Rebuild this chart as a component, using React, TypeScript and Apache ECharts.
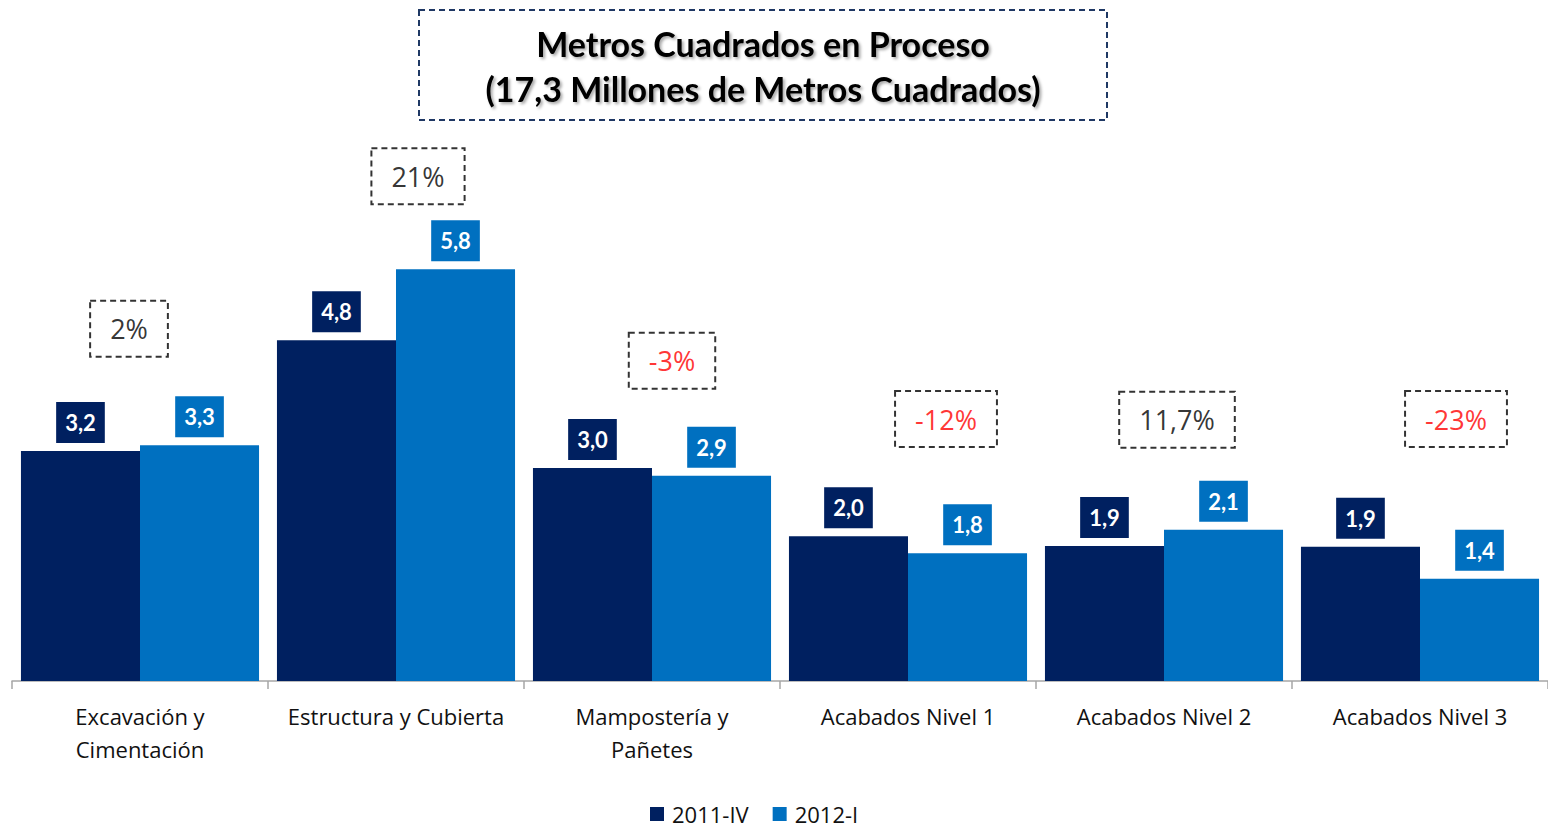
import React, { useEffect, useRef } from "react";
import * as echarts from "echarts";

const categories = [
  "Excavación y\nCimentación",
  "Estructura y Cubierta",
  "Mampostería y\nPañetes",
  "Acabados Nivel 1",
  "Acabados Nivel 2",
  "Acabados Nivel 3",
];
const seriesNames = ["2011-IV", "2012-I"];
const values2011IV = [3.24, 4.8, 3.0, 2.04, 1.9, 1.89];
const values2012I = [3.32, 5.8, 2.89, 1.8, 2.13, 1.44];
const changeLabels = ["2%", "21%", "-3%", "-12%", "11,7%", "-23%"];
const titleLines = ["Metros Cuadrados en Proceso", "(17,3 Millones de Metros Cuadrados)"];

// layout of the change annotations (axis units / px offsets)
const changeLevel = [4.96, 7.11, 4.51, 3.69, 3.68, 3.69];
const changeOffsetX = [-11, 22, 20, 38, 13, 36];

const NAVY = "#002060";
const BLUE = "#0070C0";
const FONT = "Lato, 'Open Sans', sans-serif";
const FONT2 = "'Open Sans', Lato, sans-serif";

const fmt = (v: number) => v.toFixed(1).replace(".", ",");

export default function App() {
  const ref = useRef<HTMLDivElement>(null);
  useEffect(() => {
    if (!ref.current) return;
    const chart = echarts.init(ref.current, undefined, { renderer: "svg" });
    const barLabel = (color: string) => ({
      show: true,
      position: "top" as const,
      distance: 8,
      formatter: (p: any) => fmt(p.value as number),
      color: "#fff",
      fontWeight: "bold" as const,
      fontFamily: FONT,
      fontSize: 22,
      lineHeight: 25,
      backgroundColor: color,
      padding: [8, 9, 8, 9],
    });
    const titleStyle = (text: string) => ({
      text,
      align: "center",
      verticalAlign: "middle",
      fontSize: 34,
      fontWeight: "bold",
      fontFamily: FONT,
      fill: "#000",
      textShadowColor: "rgba(0,0,0,0.35)",
      textShadowBlur: 3,
      textShadowOffsetX: 2,
      textShadowOffsetY: 2,
    });
    chart.setOption({
      animation: false,
      backgroundColor: "#ffffff",
      textStyle: { fontFamily: FONT2 },
      grid: { left: 12, right: 0, top: 42, bottom: 150, containLabel: false },
      legend: {
        data: seriesNames,
        left: 650,
        top: 803,
        padding: 0,
        itemWidth: 14,
        itemHeight: 14,
        itemGap: 24,
        icon: "rect",
        textStyle: {
          fontSize: 22,
          lineHeight: 22,
          color: "#111",
          fontFamily: FONT2,
          padding: [0, 0, 0, 3],
        },
      },
      xAxis: {
        type: "category",
        data: categories,
        axisLine: { lineStyle: { color: "#a6a6a6", width: 1.5 } },
        axisTick: { show: true, length: 8, lineStyle: { color: "#a6a6a6", width: 1.5 } },
        axisLabel: {
          interval: 0,
          fontSize: 22,
          lineHeight: 33,
          color: "#111",
          fontFamily: FONT2,
          margin: 18,
        },
      },
      yAxis: {
        type: "value",
        min: 0,
        max: 9,
        show: false,
        splitLine: { show: false },
      },
      series: [
        {
          name: seriesNames[0],
          type: "bar",
          data: values2011IV,
          barGap: "0%",
          barCategoryGap: "7%",
          itemStyle: { color: NAVY },
          label: barLabel(NAVY),
        },
        {
          name: seriesNames[1],
          type: "bar",
          data: values2012I,
          itemStyle: { color: BLUE },
          label: barLabel(BLUE),
        },
        {
          name: "change",
          type: "scatter",
          symbolSize: 1,
          itemStyle: { color: "rgba(0,0,0,0)" },
          z: 10,
          data: changeLabels.map((t, i) => ({
            value: [i, changeLevel[i]],
            label: {
              show: true,
              position: "inside",
              formatter: t,
              offset: [changeOffsetX[i], 0],
              color: t.startsWith("-") ? "#ff0000" : "#000000",
              fontSize: 27,
              fontFamily: FONT2,
              lineHeight: 30,
              padding: [13, 20, 13, 20],
              borderColor: "#000",
              borderWidth: 2,
              borderType: [6, 4],
            },
          })),
        },
      ],
      graphic: [
        {
          type: "rect",
          shape: { x: 419, y: 10, width: 688, height: 110 },
          style: { fill: "none", stroke: "#1F3864", lineWidth: 2, lineDash: [6, 4] },
        },
        { type: "text", x: 763, y: 43, style: titleStyle(titleLines[0]) },
        { type: "text", x: 763, y: 88, style: titleStyle(titleLines[1]) },
      ],
    });
    return () => chart.dispose();
  }, []);
  return (
    <div
      ref={ref}
      style={{ position: "fixed", left: 0, top: 0, width: 1548, height: 831, background: "#fff" }}
    />
  );
}
